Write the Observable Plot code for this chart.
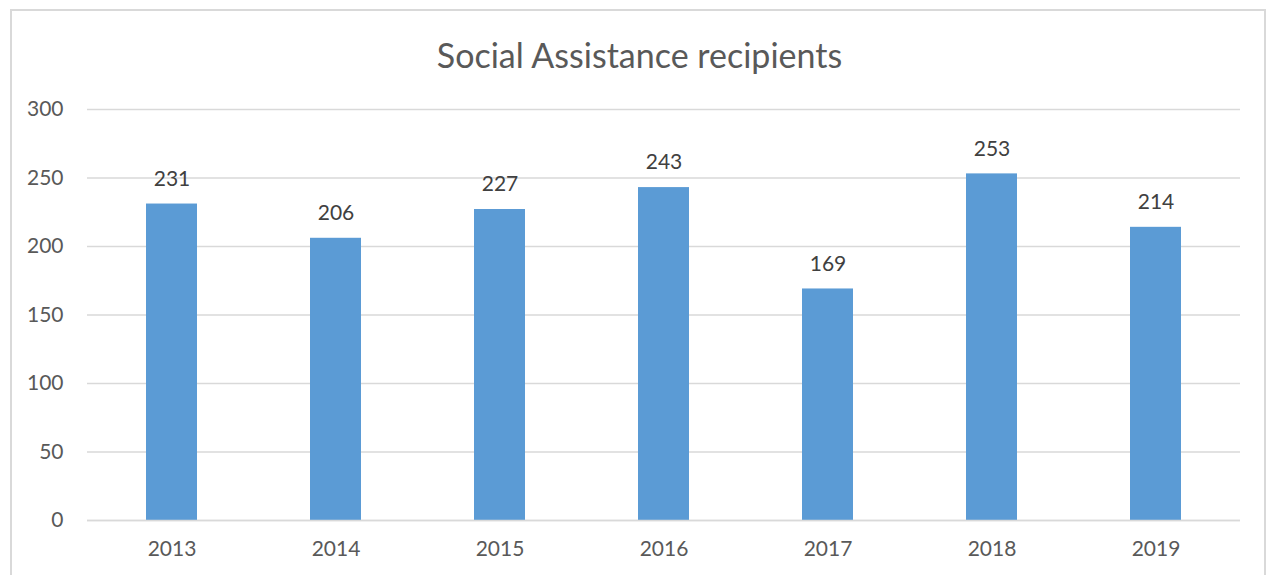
<!DOCTYPE html>
<html>
<head>
<meta charset="utf-8">
<script src="https://cdn.jsdelivr.net/npm/d3@7"></script>
<script src="https://cdn.jsdelivr.net/npm/@observablehq/plot@0.6"></script>
<style>
  html, body { margin: 0; padding: 0; background: #fff; }
  #wrap { position: relative; width: 1269px; height: 575px; overflow: hidden; font-family: Lato, "Open Sans", sans-serif; }
  #frame { position: absolute; left: 10px; top: 9px; width: 1256px; height: 620px; border: 2px solid #d9d9d9; box-sizing: border-box; }
  #title { position: absolute; left: 0; width: 1279px; top: 33px; text-align: center; font-size: 34px; color: #595959; line-height: 44px; }
  #chart { position: absolute; left: 0; top: 90px; }
</style>
</head>
<body>
<div id="wrap">
  <div id="frame"></div>
  <div id="title">Social Assistance recipients</div>
  <div id="chart"></div>
</div>
<script>
const years = ["2013", "2014", "2015", "2016", "2017", "2018", "2019"];
const recipients = [231, 206, 227, 243, 169, 253, 214];
const yTicks = [0, 50, 100, 150, 200, 250, 300];

const data = years.map((y, i) => ({year: y, value: recipients[i]}));

const chart = Plot.plot({
  width: 1269,
  height: 485,
  marginLeft: 87,
  marginRight: 29,
  marginTop: 19,
  marginBottom: 55,
  style: {fontFamily: "Lato, 'Open Sans', sans-serif", fontSize: "21px", color: "#595959", background: "transparent"},
  x: {domain: years, paddingInner: 0.69, paddingOuter: 0.345, label: null},
  y: {domain: [0, 300], label: null},
  marks: [
    Plot.gridY(yTicks, {stroke: "#d9d9d9", strokeOpacity: 1, strokeWidth: 1.5}),
    Plot.axisY(yTicks, {tickSize: 0, tickPadding: 24, fill: "#595959", fontSize: 21, label: null}),
    Plot.axisX({tickSize: 0, tickPadding: 21, fill: "#595959", fontSize: 21, label: null}),
    Plot.barY(data, {x: "year", y: "value", fill: "#5b9bd5"}),
    Plot.ruleY([0], {stroke: "#d9d9d9", strokeWidth: 1.5}),
    Plot.text(data, {x: "year", y: "value", text: d => String(d.value), dy: -25, fill: "#404040", fontSize: 21})
  ]
});
document.getElementById("chart").appendChild(chart);
</script>
</body>
</html>
